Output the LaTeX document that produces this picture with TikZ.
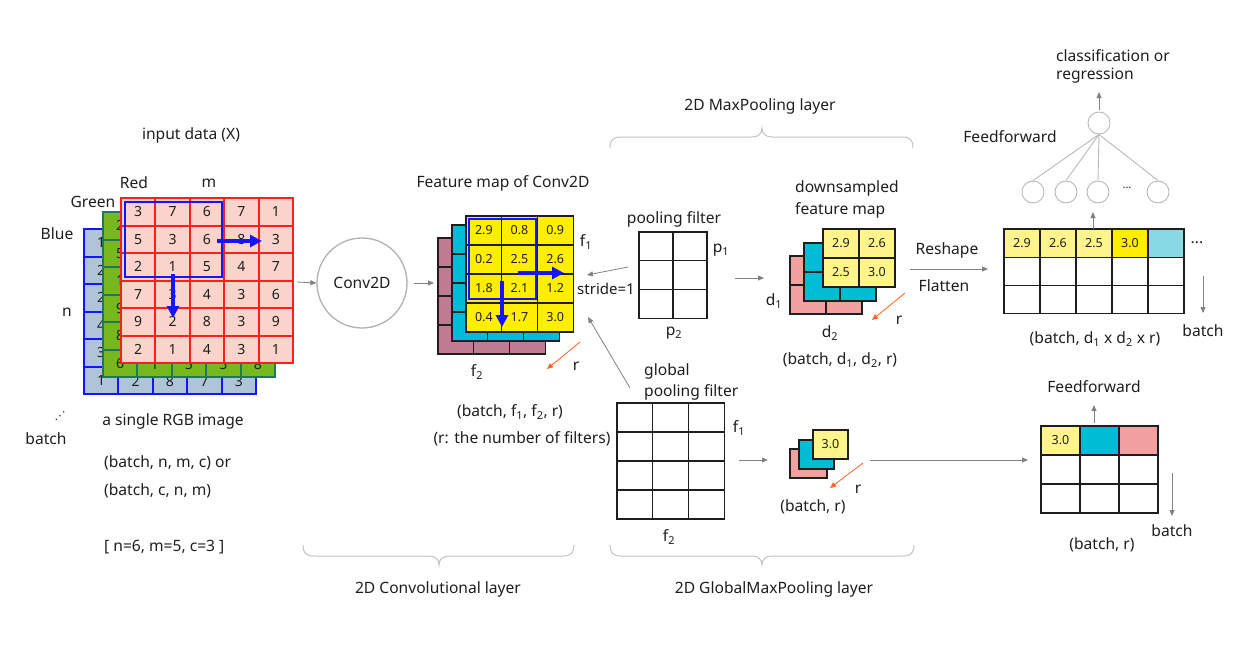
\documentclass[tikz,border=0pt]{standalone}
\usepackage{fontspec}
\setmainfont{Noto Sans}
\newfontfamily\dejavu{DejaVu Sans}
\usetikzlibrary{arrows.meta}
\definecolor{cellpink}{RGB}{250,212,202}
\definecolor{redline}{RGB}{255,30,30}
\definecolor{gfill}{RGB}{118,184,30}
\definecolor{gline}{RGB}{30,120,90}
\definecolor{bfill}{RGB}{176,196,216}
\definecolor{bline}{RGB}{20,20,255}
\definecolor{ybright}{RGB}{255,238,0}
\definecolor{ypale}{RGB}{255,245,140}
\definecolor{cyanc}{RGB}{0,188,212}
\definecolor{cyanl}{RGB}{135,218,228}
\definecolor{mauve}{RGB}{192,122,145}
\definecolor{salmon}{RGB}{242,160,160}
\definecolor{garr}{RGB}{130,130,130}
\definecolor{orangec}{RGB}{255,100,30}
\definecolor{bracec}{RGB}{195,195,195}
\definecolor{ink}{RGB}{30,30,30}
% grid: x0,y0,cols,rows,cw,ch,style,name
\newcommand{\gridbox}[8]{%
  \draw[#7] (#1,#2) rectangle ++({#3*#5},{#4*#6});
  \node[inner sep=0pt, minimum width={#3*#5*1pt}, minimum height={#4*#6*1pt}] (#8) at ({#1+#3*#5/2},{#2+#4*#6/2}) {};
  \pgfmathtruncatemacro{\gbc}{#3-1}%
  \pgfmathtruncatemacro{\gbr}{#4-1}%
  \ifnum\gbc>0 \foreach \i in {1,...,\gbc} {\draw[#7,fill=none] ({#1+\i*#5},#2) -- ++(0,{#4*#6});}\fi
  \ifnum\gbr>0 \foreach \j in {1,...,\gbr} {\draw[#7,fill=none] (#1,{#2+\j*#6}) -- ++({#3*#5},0);}\fi
}
\tikzset{
  txt/.style={inner sep=0pt, text=ink},
  garrow/.style={draw=garr, line width=0.8pt, -{Triangle[length=6pt,width=5pt]}},
  oarrow/.style={draw=orangec, line width=0.8pt, -{Triangle[length=6pt,width=5pt]}},
  barrow/.style={draw=bline, line width=4pt, -{Triangle[length=12pt,width=12pt]}},
  bwin/.style={draw=bline, line width=2.8pt},
  brace/.style={draw=bracec, line width=1pt},
  neuron/.style={circle, draw=gray!55, line width=0.9pt, minimum size=22pt, inner sep=0pt},
  redg/.style={draw=redline, fill=cellpink, line width=2pt},
  greeng/.style={draw=gline, fill=gfill, line width=2pt},
  blueg/.style={draw=bline, fill=bfill, line width=2pt},
  blk/.style={draw=ink, line width=1.1pt},
  num/.style={inner sep=0pt, text=ink, font=\fontsize{14}{15}\selectfont},
  snum/.style={inner sep=0pt, text=ink, font=\fontsize{12.5}{14}\selectfont},
}
\begin{document}
\begin{tikzpicture}[x=1pt,y=-1pt,font=\fontsize{15.6}{18}\selectfont]
\useasboundingbox (0,0) rectangle (1240,661);
\fill[white] (0,0) rectangle (1240,661);

% ---------- input data ----------
\node[txt] (title) at (191,135) {input data (X)};
\gridbox{84}{229}{5}{6}{34.4}{27.5}{blueg}{blue}
\foreach \v [count=\r] in {1,2,2,4,3,1} {\node[num] at (101.2,{229+(\r-0.5)*27.5}) {\v};}
\foreach \v [count=\c] in {1,2,8,7,3} {\ifnum\c>1 \node[num] at ({84+(\c-0.5)*34.4},381.2) {\v};\fi}
\gridbox{103}{212}{5}{6}{34.4}{27.5}{greeng}{green}
\foreach \v [count=\r] in {2,5,1,9,8,6} {\node[num] at (120.2,{212+(\r-0.5)*27.5}) {\v};}
\foreach \v [count=\c] in {6,1,5,5,8} {\ifnum\c>1 \node[num] at ({103+(\c-0.5)*34.4},364.2) {\v};\fi}
\gridbox{121}{198}{5}{6}{34.4}{27.5}{redg}{red}
\foreach \row [count=\r] in {{3,7,6,7,1},{5,3,6,8,3},{2,1,5,4,7},{7,3,4,3,6},{9,2,8,3,9},{2,1,4,3,1}} {
  \foreach \v [count=\c] in \row {\node[num] at ({121+(\c-0.5)*34.4},{198+(\r-0.5)*27.5}) {\v};}
}
\draw[bwin] (125,202) rectangle (222,277);
\coordinate (ba1) at (217,241); \coordinate (ba2) at (262,241);
\coordinate (ba3) at (173,274); \coordinate (ba4) at (173,318);
\draw[barrow] (ba1) -- (ba2);
\draw[barrow] (ba3) -- (ba4);
\node[txt] (lred) at (134,183) {Red};
\node[txt] (lm) at (209,183) {m};
\node[txt] (lgreen) at (93,202) {Green};
\node[txt] (lblue) at (57,234) {Blue};
\node[txt] (ln) at (67,312) {n};
\node[txt, font=\dejavu\fontsize{11}{12}\selectfont] (dots) at (60,416) {⋰};
\node[txt] (lbatch) at (46,439) {batch};
\node[txt] (single) at (173,421) {a single RGB image};
\node[txt, anchor=west] (shape1) at (104,463) {(batch, n, m, c) or};
\node[txt, anchor=west] (shape2) at (104,491) {(batch, c, n, m)};
\node[txt, anchor=west] (shape3) at (104,547) {[ n=6, m=5, c=3 ]};

% ---------- Conv2D ----------
\node[circle, draw=gray!60, line width=1.3pt, minimum size=90pt, inner sep=0pt, text=ink] (conv) at (362,283) {Conv2D};
\coordinate (a1s) at (297,282);
\draw[garrow] (a1s) -- (conv.west);
\coordinate (a2e) at (434,283);
\draw[garrow, shorten <=6pt] (conv.east) -- (a2e);

% ---------- feature map ----------
\node[txt] (fmt) at (503,183) {Feature map of Conv2D};
\gridbox{438}{238}{3}{4}{35.7}{29}{blk,fill=mauve}{fmA}
\gridbox{452}{225}{3}{4}{35.7}{29}{blk,fill=cyanc}{fmB}
\gridbox{466}{216}{3}{4}{35.7}{29}{blk,fill=ybright}{fmC}
\foreach \row [count=\r] in {{2.9,0.8,0.9},{0.2,2.5,2.6},{1.8,2.1,1.2},{0.4,1.7,3.0}} {
  \foreach \v [count=\c] in \row {\node[snum] at ({466+(\c-0.5)*35.7},{216+(\r-0.5)*29}) {\v};}
}
\draw[bwin, line width=2.4pt] (469,219) rectangle (536,299);
\coordinate (fb1) at (518,273); \coordinate (fb2) at (564,273);
\coordinate (fb3) at (502,281); \coordinate (fb4) at (502,327);
\draw[barrow] (fb1) -- (fb2);
\draw[barrow] (fb3) -- (fb4);
\node[txt] (ff1) at (586,242) {f\textsubscript{1}};
\node[txt, anchor=west, font=\fontsize{15}{18}\selectfont] (stride) at (577,289) {stride=1};
\node[txt] (ff2) at (477,372) {f\textsubscript{2}};
\node[txt] (fr) at (576,366) {r};
\coordinate (fo1) at (580,342); \coordinate (fo2) at (547,369);
\draw[oarrow] (fo1) -- (fo2);
\node[txt] (fshape) at (510,412) {(batch, f\textsubscript{1}, f\textsubscript{2}, r)};
\node[txt] (fnote) at (522,439) {(r: the number of filters)};

% ---------- max pooling ----------
\node[txt] (mpl) at (760,106) {2D MaxPooling layer};
\draw[brace] (610,148) .. controls (610,140) and (613,137) .. (621,137) -- (752,137) .. controls (758,137) and (762,134) .. (762,128) .. controls (762,134) and (766,137) .. (772,137) -- (902,137) .. controls (910,137) and (913,140) .. (913,148);
\node[txt] (pft) at (674,219) {pooling filter};
\gridbox{639}{232}{2}{3}{34}{28.7}{blk}{pf}
\node[txt] (pp1) at (721,250) {p\textsubscript{1}};
\node[txt] (pp2) at (674,333) {p\textsubscript{2}};
\coordinate (pa1) at (628,267); \coordinate (pa2) at (587,275);
\draw[garrow] (pa1) -- (pa2);
\coordinate (pa3) at (735,278); \coordinate (pa4) at (764,278);
\draw[garrow] (pa3) -- (pa4);

\node[txt, anchor=west] (ds1) at (795,188) {downsampled};
\node[txt, anchor=west] (ds2) at (795,210) {feature map};
\gridbox{790}{256}{2}{2}{36}{29}{blk,fill=salmon}{dsA}
\gridbox{804}{243}{2}{2}{36}{29}{blk,fill=cyanc}{dsB}
\gridbox{823}{229}{2}{2}{36}{29}{blk,fill=ypale}{dsC}
\foreach \row [count=\r] in {{2.9,2.6},{2.5,3.0}} {
  \foreach \v [count=\c] in \row {\node[snum] at ({823+(\c-0.5)*36},{229+(\r-0.5)*29}) {\v};}
}
\node[txt] (dd1) at (774,301) {d\textsubscript{1}};
\node[txt] (dd2) at (830,333) {d\textsubscript{2}};
\node[txt] (dr) at (899,320) {r};
\coordinate (do1) at (905,293); \coordinate (do2) at (872,320);
\draw[oarrow] (do1) -- (do2);
\node[txt] (dshape) at (840,360) {(batch, d\textsubscript{1}, d\textsubscript{2}, r)};

% ---------- flatten ----------
\node[txt] (resh) at (947,250) {Reshape};
\node[txt] (flat) at (944,286) {Flatten};
\coordinate (fa1) at (910,269); \coordinate (fa2) at (988,269);
\draw[garrow] (fa1) -- (fa2);
\gridbox{1004}{229}{5}{3}{36}{28.3}{blk,fill=white}{fg}
\foreach \c/\col/\v in {0/ypale/2.9,1/ypale/2.6,2/ypale/2.5,3/ybright/3.0,4/cyanl/{}} {
  \draw[blk, fill=\col] ({1004+\c*36},229) rectangle ++(36,28.3);
  \node[snum] at ({1004+(\c+0.5)*36},243.2) {\v};
}
\node[txt] (fdots) at (1197,243) {...};
\coordinate (fb5) at (1203,276); \coordinate (fb6) at (1203,313);
\draw[garrow] (fb5) -- (fb6);
\node[txt] (fbatch) at (1203,331) {batch};
\node[txt] (fshape2) at (1095,339) {(batch, d\textsubscript{1} x d\textsubscript{2} x r)};
\coordinate (fu1) at (1093,229); \coordinate (fu2) at (1093,212);
\draw[garrow] (fu1) -- (fu2);

% ---------- feedforward ----------
\node[neuron] (n1) at (1033,192) {};
\node[neuron] (n2) at (1066,192) {};
\node[neuron] (n3) at (1098,192) {};
\node[txt, font=\fontsize{11}{12}\selectfont] (ndots) at (1127,188) {...};
\node[neuron] (n4) at (1158,192) {};
\node[neuron] (top) at (1099,123) {};
\foreach \n in {n1,n2,n3,n4} {\draw[draw=gray!55, line width=0.9pt] (top.south) -- (\n.north);}
\coordinate (tu) at (1099,92);
\draw[garrow, shorten <=2pt] (top.north) -- (tu);
\node[txt] (ffw) at (1010,137) {Feedforward};
\node[txt, anchor=west] (cls1) at (1056,56) {classification or};
\node[txt, anchor=west] (cls2) at (1056,76) {regression};

% ---------- global pooling ----------
\node[txt, anchor=west] (gl1) at (644,371) {global};
\node[txt, anchor=west] (gl2) at (644,392) {pooling filter};
\coordinate (ga1) at (630,388); \coordinate (ga2) at (588,317);
\draw[garrow] (ga1) -- (ga2);
\gridbox{617}{403}{3}{4}{35.7}{29}{blk}{gf}
\node[txt] (gf1) at (739,428) {f\textsubscript{1}};
\node[txt] (gf2) at (669,537) {f\textsubscript{2}};
\coordinate (ga3) at (739,460); \coordinate (ga4) at (768,460);
\draw[garrow] (ga3) -- (ga4);
\node[blk, fill=salmon, minimum width=37pt, minimum height=29pt, inner sep=0pt] (sA) at (808.5,463.5) {};
\node[blk, fill=cyanc, minimum width=35pt, minimum height=29pt, inner sep=0pt] (sB) at (816.5,454.5) {};
\node[blk, fill=ypale, minimum width=35pt, minimum height=29pt, inner sep=0pt, font=\fontsize{12.5}{14}\selectfont, text=ink] (sC) at (830.5,444.5) {3.0};
\coordinate (so1) at (863,463); \coordinate (so2) at (830,488);
\draw[oarrow] (so1) -- (so2);
\node[txt] (sr) at (858,489) {r};
\node[txt] (sshape) at (813,507) {(batch, r)};
\coordinate (la1) at (870,460); \coordinate (la2) at (1028,460);
\draw[garrow] (la1) -- (la2);

\gridbox{1041}{426}{3}{3}{39}{29}{blk,fill=white}{gg}
\draw[blk, fill=ypale] (1041,426) rectangle ++(39,29);
\node[snum] at (1060.5,440.5) {3.0};
\draw[blk, fill=cyanc] (1080,426) rectangle ++(39,29);
\draw[blk, fill=salmon] (1119,426) rectangle ++(39,29);
\coordinate (gu1) at (1094,423); \coordinate (gu2) at (1094,405);
\draw[garrow] (gu1) -- (gu2);
\node[txt] (gffw) at (1094,387) {Feedforward};
\coordinate (gb1) at (1172,473); \coordinate (gb2) at (1172,516);
\draw[garrow] (gb1) -- (gb2);
\node[txt] (gbatch) at (1172,531) {batch};
\node[txt] (gshape) at (1102,545) {(batch, r)};

% ---------- bottom braces ----------
\draw[brace] (303,545) .. controls (303,553) and (306,556) .. (314,556) -- (429,556) .. controls (435,556) and (439,559) .. (439,565) .. controls (439,559) and (443,556) .. (449,556) -- (563,556) .. controls (571,556) and (574,553) .. (574,545);
\draw[brace] (610,545) .. controls (610,553) and (613,556) .. (621,556) -- (752,556) .. controls (758,556) and (762,559) .. (762,565) .. controls (762,559) and (766,556) .. (772,556) -- (903,556) .. controls (911,556) and (914,553) .. (914,545);
\node[txt] (convl) at (438,589) {2D Convolutional layer};
\node[txt] (gmpl) at (774,589) {2D GlobalMaxPooling layer};
\end{tikzpicture}
\end{document}
